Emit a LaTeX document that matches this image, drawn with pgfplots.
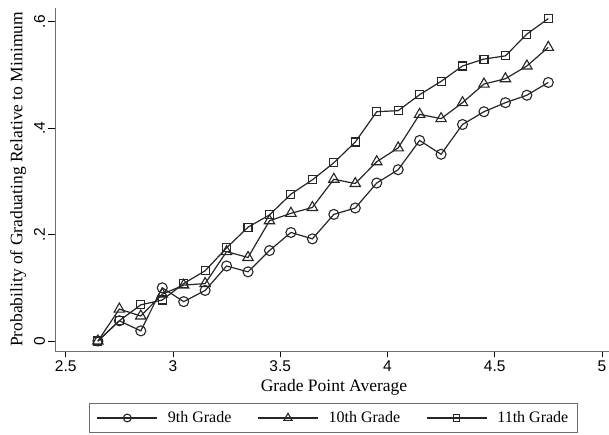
\documentclass[border=0pt]{standalone}
\usepackage{pgfplots}
\pgfplotsset{compat=1.18}
\usepackage{pgfplotstable}
\usepackage{fontspec}
\setmainfont{Liberation Serif}
\newfontfamily\ticksans{Liberation Sans}
\definecolor{lncol}{HTML}{262626}
\definecolor{axcol}{HTML}{6E6E6E}

\pgfplotstableread{
x    g9    g10   g11
2.65 0.000 0.000 0.000
2.75 0.038 0.060 0.038
2.85 0.019 0.047 0.068
2.95 0.100 0.088 0.077
3.05 0.074 0.105 0.108
3.15 0.095 0.108 0.132
3.25 0.141 0.168 0.175
3.35 0.130 0.157 0.214
3.45 0.170 0.226 0.237
3.55 0.204 0.240 0.276
3.65 0.192 0.251 0.303
3.75 0.238 0.304 0.335
3.85 0.250 0.296 0.374
3.95 0.297 0.337 0.431
4.05 0.322 0.363 0.433
4.15 0.377 0.426 0.463
4.25 0.351 0.418 0.488
4.35 0.407 0.448 0.517
4.45 0.431 0.483 0.530
4.55 0.448 0.493 0.536
4.65 0.462 0.517 0.577
4.75 0.486 0.552 0.606
}\datatable

\begin{document}
\begin{tikzpicture}
\useasboundingbox (0,0) rectangle (609pt,435pt);
\begin{axis}[
  at={(55pt,84pt)}, anchor=south west,
  scale only axis, width=554pt, height=343pt,
  xmin=2.45, xmax=5.033, ymin=-0.0188, ymax=0.626,
  axis lines=left, axis line style={-, draw=axcol, line width=0.9pt},
  tick align=outside, major tick length=6.5pt,
  tick style={draw=black, line width=0.8pt},
  xtick={2.5,3,3.5,4,4.5,5},
  xticklabels={2.5,3,3.5,4,4.5,5},
  ytick={0,0.2,0.4,0.6},
  yticklabels={0,.2,.4,.6},
  ticklabel style={font=\ticksans\fontsize{15.5}{18}\selectfont},
  yticklabel style={rotate=90, anchor=south},
  xlabel={Grade Point Average},
  ylabel={Probability of Graduating Relative to Minimum},
  label style={font=\fontsize{17.5}{20}\selectfont},
  xlabel style={at={(axis description cs:0.5036,-0.1195)}, anchor=base},
  ylabel style={at={(axis description cs:-0.0668,0.5)}, anchor=center},
  legend columns=3,
  legend style={at={(axis description cs:0.5027,-0.1953)}, anchor=center,
    draw=axcol, line width=0.8pt, font=\fontsize{16}{19}\selectfont,
    inner xsep=7pt, inner ysep=6.5pt,
    /tikz/every odd column/.append style={column sep=8pt},
    /tikz/every even column/.append style={column sep=24pt}},
  legend image code/.code={%
    \draw[#1, /tikz/every mark/.append style={scale=0.78}, mark repeat=2, mark phase=2]
      plot coordinates {(0pt,0pt) (30pt,0pt) (60pt,0pt)};},
  every axis plot/.append style={line width=1.2pt, draw=lncol},
]
\addplot[lncol, mark=o, mark size=5pt, mark options={fill=white, solid, line width=1.1pt}] table[x=x, y=g9] {\datatable};
\addlegendentry{9th Grade}
\addplot[lncol, mark=triangle, mark size=6pt, mark options={fill=white, solid, line width=1.1pt}] table[x=x, y=g10] {\datatable};
\addlegendentry{10th Grade}
\addplot[lncol, mark=square, mark size=4pt, mark options={fill=white, solid, line width=1.1pt}] table[x=x, y=g11] {\datatable};
\addlegendentry{11th Grade}
\end{axis}
\end{tikzpicture}
\end{document}
